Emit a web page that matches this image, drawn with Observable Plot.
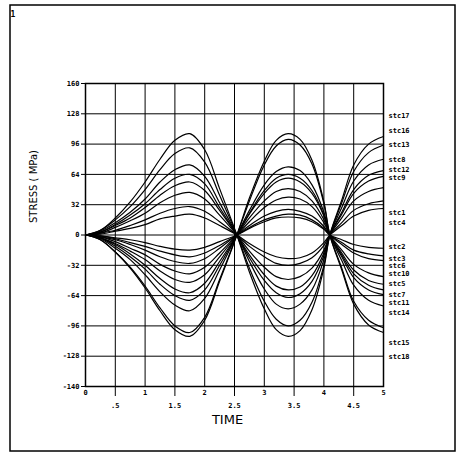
<!DOCTYPE html>
<html><head><meta charset="utf-8">
<script src="https://cdn.jsdelivr.net/npm/d3@7"></script>
<script src="https://cdn.jsdelivr.net/npm/@observablehq/plot@0.6"></script>
<style>body{margin:0;background:#fff}#chart{width:458px;height:457px}</style>
</head><body><div id="chart"></div>
<script>
// time samples (s)
const tValues = [0, 0.25, 0.5, 0.75, 1.0, 1.25, 1.5, 1.75, 2.0, 2.25, 2.54, 2.75, 3.0, 3.2, 3.4, 3.6, 3.8, 4.0, 4.1, 4.3, 4.5, 4.75, 5.0];

// stress series (MPa)
const stc17 = [0, 5, 18, 35, 56, 80, 100, 107, 90, 49, 0, -39, -78, -100, -107, -101, -79, -35, 0, 37, 74, 96, 104];
const stc16 = [0, 5, 16, 30, 48, 69, 86, 92, 77, 42, 0, -35, -70, -89, -96, -90, -71, -32, 0, 34, 67, 87, 95];
const stc13 = [0, 4, 13, 24, 38, 56, 69, 74, 62, 34, 0, -28, -57, -73, -78, -73, -58, -26, 0, 29, 57, 74, 80];
const stc8  = [0, 3, 11, 21, 33, 48, 60, 64, 54, 29, 0, -24, -48, -61, -66, -62, -49, -22, 0, 24, 48, 63, 68];
const stc12 = [0, 3, 10, 18, 29, 42, 52, 56, 47, 26, 0, -21, -42, -54, -58, -55, -43, -19, 0, 22, 44, 57, 62];
const stc9  = [0, 2, 8, 15, 23, 34, 42, 45, 38, 21, 0, -17, -34, -44, -47, -44, -35, -16, 0, 18, 36, 46, 50];
const stc1  = [0, 2, 5, 10, 16, 23, 28, 30, 25, 14, 0, -12, -23, -30, -32, -30, -24, -11, 0, 13, 26, 33, 36];
const stc4  = [0, 1, 4, 7, 11, 17, 20, 22, 18, 10, 0, -9, -18, -23, -25, -24, -19, -8, 0, 10, 20, 26, 28];
const stc2  = [0, -1, -3, -5, -8, -12, -15, -16, -13, -7, 0, 7, 14, 18, 19, 18, 14, 6, 0, -5, -10, -13, -14];
const stc3  = [0, -1, -4, -8, -12, -17, -21, -23, -19, -11, 0, 8, 16, 20, 22, 21, 16, 7, 0, -8, -16, -20, -22];
const stc10 = [0, -2, -5, -10, -16, -23, -28, -30, -25, -14, 0, 10, 20, 25, 27, 25, 20, 9, 0, -10, -19, -25, -27];
const stc5  = [0, -2, -7, -14, -21, -31, -38, -41, -34, -19, 0, 14, 29, 37, 40, 38, 30, 13, 0, -16, -31, -40, -44];
const stc6  = [0, -3, -9, -17, -26, -38, -47, -50, -42, -23, 0, 18, 36, 46, 49, 46, 36, 16, 0, -19, -37, -48, -52];
const stc7  = [0, -3, -10, -20, -32, -46, -57, -61, -51, -28, 0, 22, 44, 56, 60, 56, 44, 20, 0, -21, -41, -53, -58];
const stc11 = [0, -3, -12, -23, -36, -52, -64, -69, -58, -32, 0, 23, 47, 60, 64, 60, 47, 21, 0, -23, -45, -58, -63];
const stc14 = [0, -4, -14, -26, -42, -60, -74, -80, -67, -37, 0, 26, 53, 67, 72, 68, 53, 24, 0, -27, -53, -69, -75];
const stc15 = [0, -5, -18, -34, -54, -77, -96, -103, -87, -47, 0, 36, 74, 94, 101, 95, 75, 33, 0, -35, -70, -90, -98];
const stc18 = [0, -5, -18, -35, -56, -80, -100, -107, -90, -49, 0, 39, 78, 100, 107, 101, 79, 35, 0, -37, -73, -95, -103];

const seriesNames = ["stc1","stc2","stc3","stc4","stc5","stc6","stc7","stc8","stc9","stc10","stc11","stc12","stc13","stc14","stc15","stc16","stc17","stc18"];
const seriesValues = [stc1, stc2, stc3, stc4, stc5, stc6, stc7, stc8, stc9, stc10, stc11, stc12, stc13, stc14, stc15, stc16, stc17, stc18];

// right-hand labels and the stress level they sit at
const labelNames  = ["stc17","stc16","stc13","stc8","stc12","stc9","stc1","stc4","stc2","stc3","stc6","stc10","stc5","stc7","stc11","stc14","stc15","stc18"];
const labelLevels = [126, 110, 95, 80, 69, 60, 24, 13, -12, -25, -33, -41, -51, -63, -72, -82, -114, -129];

// axis ticks
const yTicks = [-160, -128, -96, -64, -32, 0, 32, 64, 96, 128, 160];
const yTickLabels = ["-140", "-128", "-96", "-64", "-32", "0", "32", "64", "96", "128", "160"];
const xIntTicks = [0, 1, 2, 3, 4, 5];
const xIntLabels = ["0", "1", "2", "3", "4", "5"];
const xHalfTicks = [0.5, 1.5, 2.5, 3.5, 4.5];
const xHalfLabels = [".5", "1.5", "2.5", "3.5", "4.5"];
const xGridTicks = [0.5, 1, 1.5, 2, 2.5, 3, 3.5, 4, 4.5];

const rows = seriesNames.flatMap((name, k) => tValues.map((t, i) => ({name, t, v: seriesValues[k][i]})));
const labelRows = labelNames.map((name, i) => ({name, v: labelLevels[i]}));
const yLab = new Map(yTicks.map((d, i) => [d, yTickLabels[i]]));
const xIntLab = new Map(xIntTicks.map((d, i) => [d, xIntLabels[i]]));
const xHalfLab = new Map(xHalfTicks.map((d, i) => [d, xHalfLabels[i]]));

const svg = Plot.plot({
  width: 458, height: 457,
  marginLeft: 85, marginRight: 75, marginTop: 83, marginBottom: 71,
  x: {domain: [0, 5]},
  y: {domain: [-160, 160]},
  style: {fontFamily: "DejaVu Sans Mono", background: "white", color: "black"},
  marks: [
    Plot.gridX(xGridTicks, {stroke: "black", strokeOpacity: 1, strokeWidth: 1}),
    Plot.gridY(yTicks, {stroke: "black", strokeOpacity: 1, strokeWidth: 1}),
    Plot.frame({stroke: "black", strokeWidth: 1.5}),
    Plot.line(rows, {x: "t", y: "v", z: "name", curve: "catmull-rom", stroke: "black", strokeWidth: 1.2}),
    Plot.text(labelRows, {x: () => 5, y: "v", text: "name", dx: 5, textAnchor: "start", fontSize: 7, fontWeight: "bold", fill: "black"}),
    Plot.axisY(yTicks, {tickFormat: d => yLab.get(d), tickSize: 4, tickPadding: 2, fontSize: 7, fontWeight: "bold", label: null}),
    Plot.axisX(xIntTicks, {tickFormat: d => xIntLab.get(d), tickSize: 0, tickPadding: 4, fontSize: 7, fontWeight: "bold", label: null}),
    Plot.axisX(xHalfTicks, {tickFormat: d => xHalfLab.get(d), tickSize: 10, tickPadding: 7, fontSize: 7, fontWeight: "bold", label: null}),
    Plot.text(["TIME"], {frameAnchor: "bottom", dx: -7, dy: 37, fontSize: 13, fontFamily: "DejaVu Sans", fill: "black"}),
    Plot.text(["STRESS ( MPa)"], {frameAnchor: "left", dx: -52, dy: -12, rotate: -90, fontSize: 10, fontFamily: "DejaVu Sans", fill: "black"})
  ]
});

const s = d3.select(svg);
s.append("rect").attr("x", 10).attr("y", 5).attr("width", 445).attr("height", 446)
  .attr("fill", "none").attr("stroke", "black").attr("stroke-width", 1.5);
s.append("text").attr("x", 13).attr("y", 17).attr("font-size", 8).attr("font-weight", "bold")
  .attr("font-family", "DejaVu Sans Mono").text("1");
document.getElementById("chart").appendChild(svg);
</script>
</body></html>
